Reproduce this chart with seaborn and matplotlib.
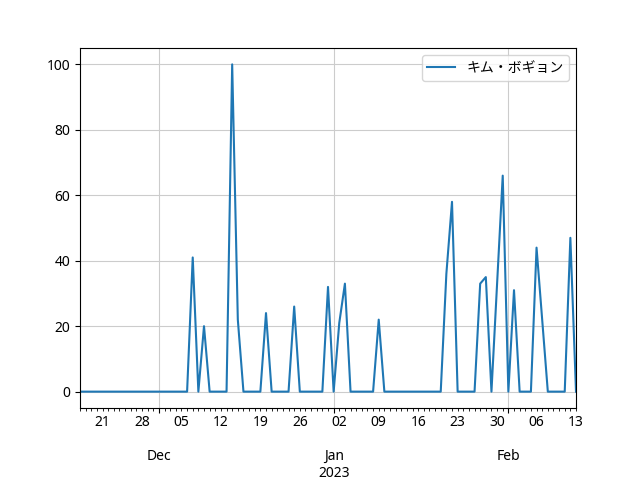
import pandas as pd
import numpy as np
import seaborn as sns
import matplotlib.pyplot as plt
import matplotlib.dates as mdates
from matplotlib.ticker import FixedLocator, FuncFormatter

plt.rcParams['font.family'] = ['Noto Sans', 'Noto Sans CJK JP', 'DejaVu Sans']

start_date = '2022-11-17'
end_date = '2023-02-13'
series_name = 'キム・ボギョン'

# daily values, Nov 17 .. Nov 30
nov_values = [0] * 14
# Dec 1 .. Dec 31
dec_values = [0, 0, 0, 0, 0, 0, 41, 0, 20, 0, 0, 0, 0, 100, 22, 0,
              0, 0, 0, 24, 0, 0, 0, 0, 26, 0, 0, 0, 0, 0, 32]
# Jan 1 .. Jan 31
jan_values = [0, 21, 33, 0, 0, 0, 0, 0, 22, 0, 0, 0, 0, 0, 0, 0,
              0, 0, 0, 0, 36, 58, 0, 0, 0, 0, 33, 35, 0, 33, 66]
# Feb 1 .. Feb 13
feb_values = [0, 31, 0, 0, 0, 44, 22, 0, 0, 0, 0, 47, 0]

dates = pd.date_range(start_date, end_date, freq='D')
values = nov_values + dec_values + jan_values + feb_values
df = pd.DataFrame({'date': dates, series_name: values})

fig, ax = plt.subplots(figsize=(6.4, 4.8), dpi=100)
fig.subplots_adjust(left=0.125, right=0.9, top=0.9, bottom=0.15)

sns.lineplot(data=df, x='date', y=series_name, ax=ax, label=series_name,
             color='#1f77b4', linewidth=1.5)

ax.set_xlim(mdates.date2num(dates[0]), mdates.date2num(dates[-1]))
ax.set_ylim(-5, 105)

month_starts = [d for d in dates if d.day == 1]
ax.xaxis.set_major_locator(FixedLocator(mdates.date2num(month_starts)))
ax.xaxis.set_minor_locator(FixedLocator(mdates.date2num(dates)))


def major_fmt(x, pos=None):
    d = mdates.num2date(x)
    if d.month == 1:
        return d.strftime('%b') + '\n' + d.strftime('%Y')
    return d.strftime('%b')


def minor_fmt(x, pos=None):
    d = mdates.num2date(x)
    if d.weekday() == 0:
        return d.strftime('%d')
    return ''


ax.xaxis.set_major_formatter(FuncFormatter(major_fmt))
ax.xaxis.set_minor_formatter(FuncFormatter(minor_fmt))
# month labels sit one row below the day numbers
ax.tick_params(axis='x', which='major', pad=26)
ax.set_xlabel('')
ax.set_ylabel('')
ax.grid(True, color='#cccccc', linewidth=0.8)
ax.legend(loc='upper right')

plt.savefig('out.png')
